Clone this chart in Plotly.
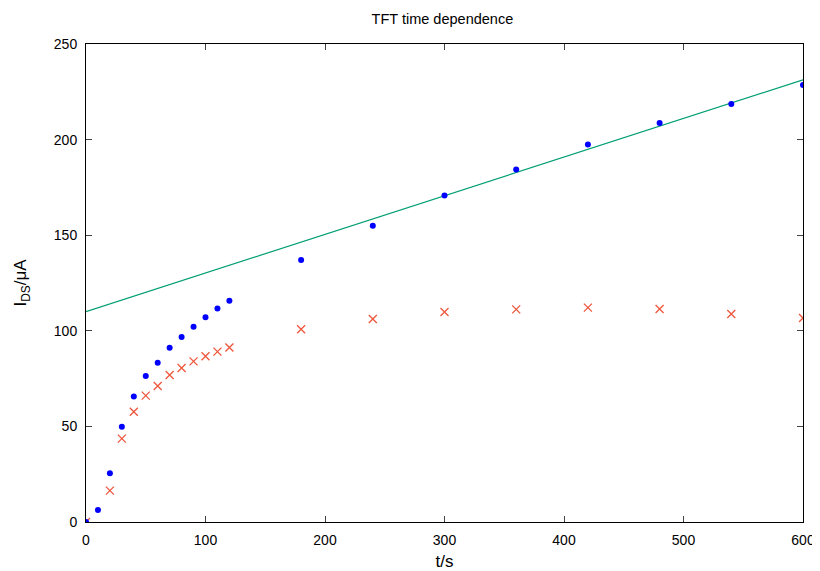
import plotly.graph_objects as go

# measured time points (s)
t_s = [0, 10, 20, 30, 40, 50, 60, 70, 80, 90, 100, 110, 120,
       180, 240, 300, 360, 420, 480, 540, 600]

# drain current, blue series (uA)
ids_a = [0, 6.3, 25.5, 49.8, 65.7, 76.4, 83.3, 91.2, 96.8, 102.1, 107.1, 111.6, 115.7,
         137.0, 155.0, 170.7, 184.3, 197.5, 208.7, 218.6, 228.6]

# drain current, red series (uA)
t_b = [0, 20, 30, 40, 50, 60, 70, 80, 90, 100, 110, 120,
       180, 240, 300, 360, 420, 480, 540, 600]
ids_b = [0, 16.4, 43.6, 57.7, 66.1, 71.1, 76.9, 80.5, 84.0, 86.7, 89.1, 91.3,
         100.8, 106.2, 109.8, 111.2, 112.1, 111.4, 108.8, 106.7]

# linear fit line endpoints
fit_t = [0, 600]
fit_i = [110.0, 231.3]

font = "Liberation Sans, Arial, sans-serif"

fig = go.Figure()
fig.add_trace(go.Scatter(x=fit_t, y=fit_i, mode="lines",
                         line=dict(color="#009e73", width=1.2)))
fig.add_trace(go.Scatter(x=t_b, y=ids_b, mode="markers",
                         marker=dict(symbol="x-thin-open", size=8,
                                     line=dict(color="#ff0000", width=1.3))))
fig.add_trace(go.Scatter(x=t_s, y=ids_a, mode="markers",
                         marker=dict(symbol="circle", size=6, color="#0000ff")))

axis = dict(showline=True, linecolor="black", linewidth=1, mirror="ticks",
            ticks="inside", ticklen=6, tickcolor="#444", showgrid=False,
            zeroline=False, automargin=False,
            tickfont=dict(family=font, size=14, color="black"))

# page body adds an 8px offset, so the figure is sized 8px smaller
fig.update_layout(
    width=812, height=563,
    margin=dict(l=78, r=17, t=36, b=49),
    paper_bgcolor="white", plot_bgcolor="white",
    showlegend=False,
    font=dict(family=font, size=14, color="black"),
    title=dict(text="TFT time dependence", x=0.535, xanchor="center",
               y=0.980, yanchor="middle", font=dict(size=14.5)),
    xaxis=dict(axis, range=[0, 600], dtick=100, ticklabelstandoff=5,
               title=dict(text="t/s", standoff=8)),
    yaxis=dict(axis, range=[0, 250], dtick=50, ticklabelstandoff=5,
               title=dict(text="I<sub>DS</sub>/μA", standoff=22)),
)

fig.write_html("out.html")
